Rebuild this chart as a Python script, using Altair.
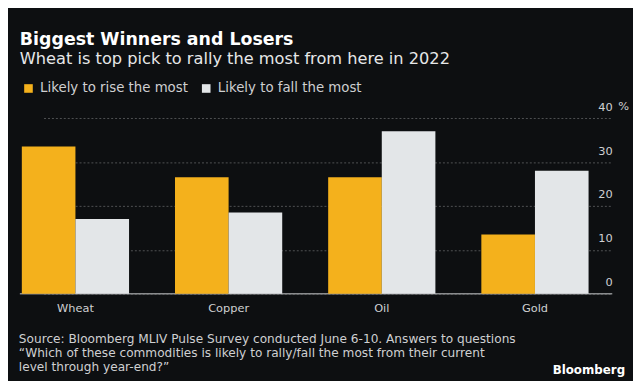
import altair as alt
import pandas as pd

commodities = ["Wheat", "Copper", "Oil", "Gold"]
series = ["Likely to rise the most", "Likely to fall the most"]
rise = [33.5, 26.5, 26.5, 13.5]
fall = [17, 18.5, 37, 28]
y_ticks = [0, 10, 20, 30, 40]
footer = ("Source: Bloomberg MLIV Pulse Survey conducted June 6-10. Answers to questions\n"
          "\u201cWhich of these commodities is likely to rally/fall the most from their current\n"
          "level through year-end?\u201d")

rows = []
for c, r, f in zip(commodities, rise, fall):
    rows.append({"commodity": c, "series": series[0], "value": r})
    rows.append({"commodity": c, "series": series[1], "value": f})
df = pd.DataFrame(rows)

BG = "#0d0f11"
ORANGE = "#f4b11c"
LIGHT = "#e3e6e8"
TXT = "#cfd0d1"
W, H = 600, 178
FONT = "DejaVu Sans"

ysc = alt.Scale(domain=[0, 40], nice=False, zero=True)

bars = alt.Chart(df).mark_bar().encode(
    x=alt.X("commodity:N", sort=commodities,
            scale=alt.Scale(range=[2, 576], paddingInner=0.3, paddingOuter=0),
            axis=alt.Axis(title=None, labelAngle=0, domain=False, ticks=False,
                          labelPadding=9, labelFontSize=11.5, labelColor=TXT,
                          labelFont=FONT)),
    xOffset=alt.XOffset("series:N", sort=series),
    y=alt.Y("value:Q", scale=ysc,
            axis=alt.Axis(title=None, orient="right", values=y_ticks, domain=False,
                          ticks=False, tickSize=0, labelAlign="right", labelPadding=0,
                          labelOffset=-11, labelBaseline="middle", grid=True,
                          gridDash=[2, 2], gridColor="#505254", labelColor=TXT,
                          labelFontSize=11.5, labelFont=FONT)),
    color=alt.Color("series:N", sort=series,
                    scale=alt.Scale(domain=series, range=[ORANGE, LIGHT]),
                    legend=alt.Legend(title=None, orient="none", legendX=2, legendY=-37,
                                      direction="horizontal", symbolType="square",
                                      symbolSize=76, labelFontSize=13.5, labelColor=TXT,
                                      labelFont=FONT, columnPadding=11, symbolOpacity=1,
                                      symbolStrokeWidth=0, labelOffset=5)),
)

baseline = alt.Chart(pd.DataFrame({"v": [0]})).mark_rule(color="#8a8c8e", strokeWidth=1.5).encode(
    y=alt.Y("v:Q", scale=ysc), x=alt.value(0), x2=alt.value(W))

pct = alt.Chart(pd.DataFrame({"v": [40]})).mark_text(
    align="left", baseline="middle", dy=-11, font=FONT, fontSize=11.5, color=TXT).encode(
    y=alt.Y("v:Q", scale=ysc), x=alt.value(W + 6), text=alt.value("%"))

foot = alt.Chart(pd.DataFrame({"v": [0]})).mark_text(
    align="left", baseline="middle", lineBreak="\n", lineHeight=14, font=FONT,
    fontSize=12.3, color=TXT).encode(
    x=alt.value(-1), y=alt.value(224), text=alt.value(footer))

brand = alt.Chart(pd.DataFrame({"v": [0]})).mark_text(
    align="right", baseline="middle", font=FONT, fontSize=12, fontWeight="bold",
    color="white").encode(x=alt.value(613), y=alt.value(255), text=alt.value("Bloomberg"))

chart = alt.layer(baseline, bars, pct, foot, brand).properties(
    width=W, height=H,
    title=alt.TitleParams(
        text="Biggest Winners and Losers",
        subtitle="Wheat is top pick to rally the most from here in 2022",
        anchor="start", frame="group", font=FONT, fontSize=17.6, fontWeight="bold",
        color="white", subtitleFont=FONT, subtitleFontSize=16.4, subtitleColor="#e6e7e8",
        subtitlePadding=3, offset=14),
    autosize="none",
    padding={"left": 12, "top": 109, "right": 21, "bottom": 86},
).configure(background=BG).configure_view(stroke=None)

chart.save("out.html", embed_options={"renderer": "svg", "actions": False})
